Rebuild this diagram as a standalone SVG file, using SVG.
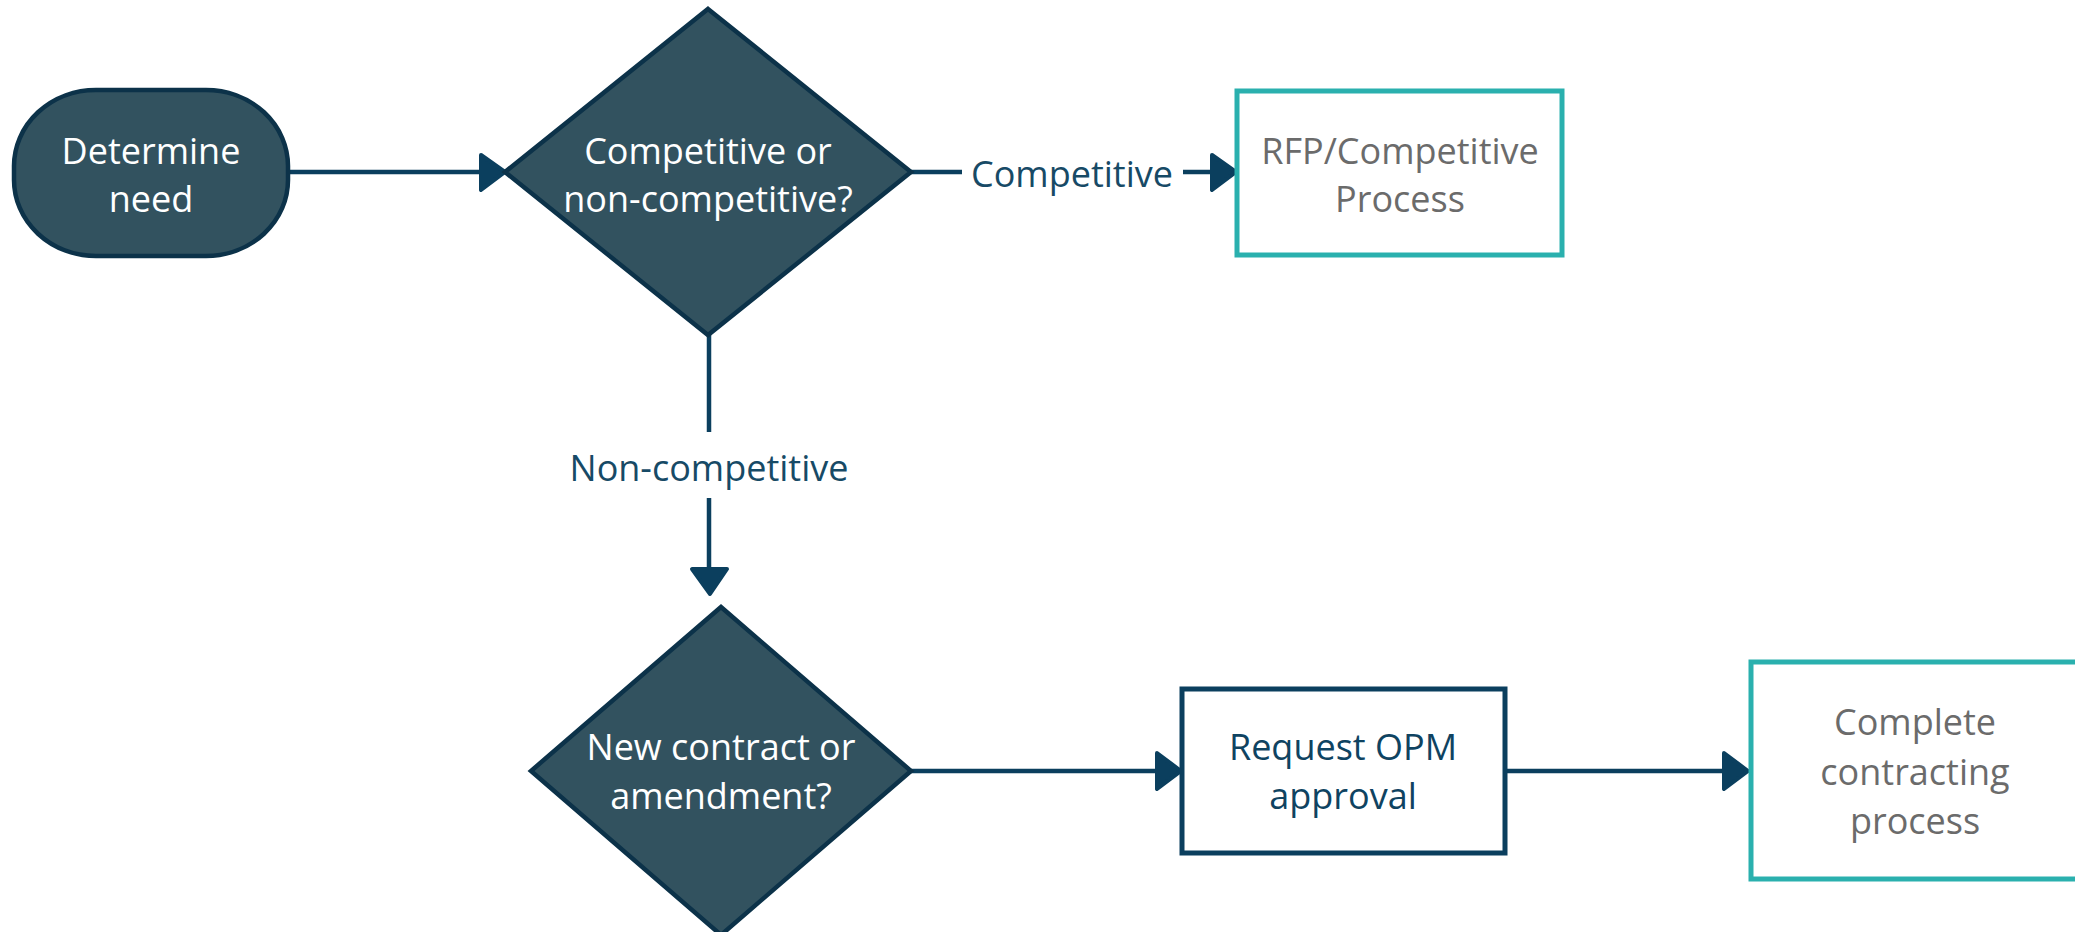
<svg xmlns="http://www.w3.org/2000/svg" width="2075" height="932" viewBox="0 0 2075 932">
<style>
text{font-family:"Open Sans","Noto Sans","Liberation Sans",sans-serif;font-size:36px;text-anchor:middle;dominant-baseline:central}
.dark{fill:#32525f;stroke:#0c3249;stroke-width:4.5}
.white{fill:#ffffff}
.line{fill:none;stroke:#0b3f5e;stroke-width:4.5}
.head{fill:#0b3f5e;stroke:#0b3f5e;stroke-width:4;stroke-linejoin:round}
.lbl{fill:#174a66}
.teal{fill:#ffffff;stroke:#2ab0ae;stroke-width:5}
.navy{fill:#ffffff;stroke:#0b3f5e;stroke-width:5}
.gray{fill:#6b6b6b}
.blue{fill:#0f4361}
</style>
<rect width="2075" height="932" fill="#ffffff"/>
<g id="connectors">
<path class="line" d="M288 172 H482"/>
<polygon class="head" points="481,155 505,172 481,190"/>
<path class="line" d="M911 172 H962"/>
<text class="lbl" x="1072" y="173">Competitive</text>
<path class="line" d="M1183 172 H1213"/>
<polygon class="head" points="1212,155 1236,172 1212,190"/>
<path class="line" d="M709 335 V432"/>
<text class="lbl" x="709" y="467">Non-competitive</text>
<path class="line" d="M709 498 V572"/>
<polygon class="head" points="692,569 727,569 710,594"/>
<path class="line" d="M911 771 H1158"/>
<polygon class="head" points="1157,753 1181,771 1157,789"/>
<path class="line" d="M1505 771 H1725"/>
<polygon class="head" points="1724,753 1748,771 1724,789"/>
</g>
<g id="determine-need">
<rect class="dark" x="14" y="90" width="274" height="166" rx="82" ry="76"/>
<text class="white" x="151" y="150">Determine</text>
<text class="white" x="151" y="198">need</text>
</g>
<g id="competitive-decision">
<polygon class="dark" points="708,9 911,172 708,335 505,172"/>
<text class="white" x="708" y="150">Competitive or</text>
<text class="white" x="708" y="198">non-competitive?</text>
</g>
<g id="rfp-process">
<rect class="teal" x="1237" y="91" width="325" height="164"/>
<text class="gray" x="1400" y="150">RFP/Competitive</text>
<text class="gray" x="1400" y="198">Process</text>
</g>
<g id="contract-decision">
<polygon class="dark" points="721,607 911,771 721,935 531,771"/>
<text class="white" x="721" y="746">New contract or</text>
<text class="white" x="721" y="795">amendment?</text>
</g>
<g id="request-opm">
<rect class="navy" x="1182" y="689" width="323" height="164"/>
<text class="blue" x="1343" y="746">Request OPM</text>
<text class="blue" x="1343" y="795">approval</text>
</g>
<g id="complete-contracting">
<rect class="teal" x="1751" y="662" width="330" height="217"/>
<text class="gray" x="1915" y="721">Complete</text>
<text class="gray" x="1915" y="771">contracting</text>
<text class="gray" x="1915" y="820">process</text>
</g>
</svg>
